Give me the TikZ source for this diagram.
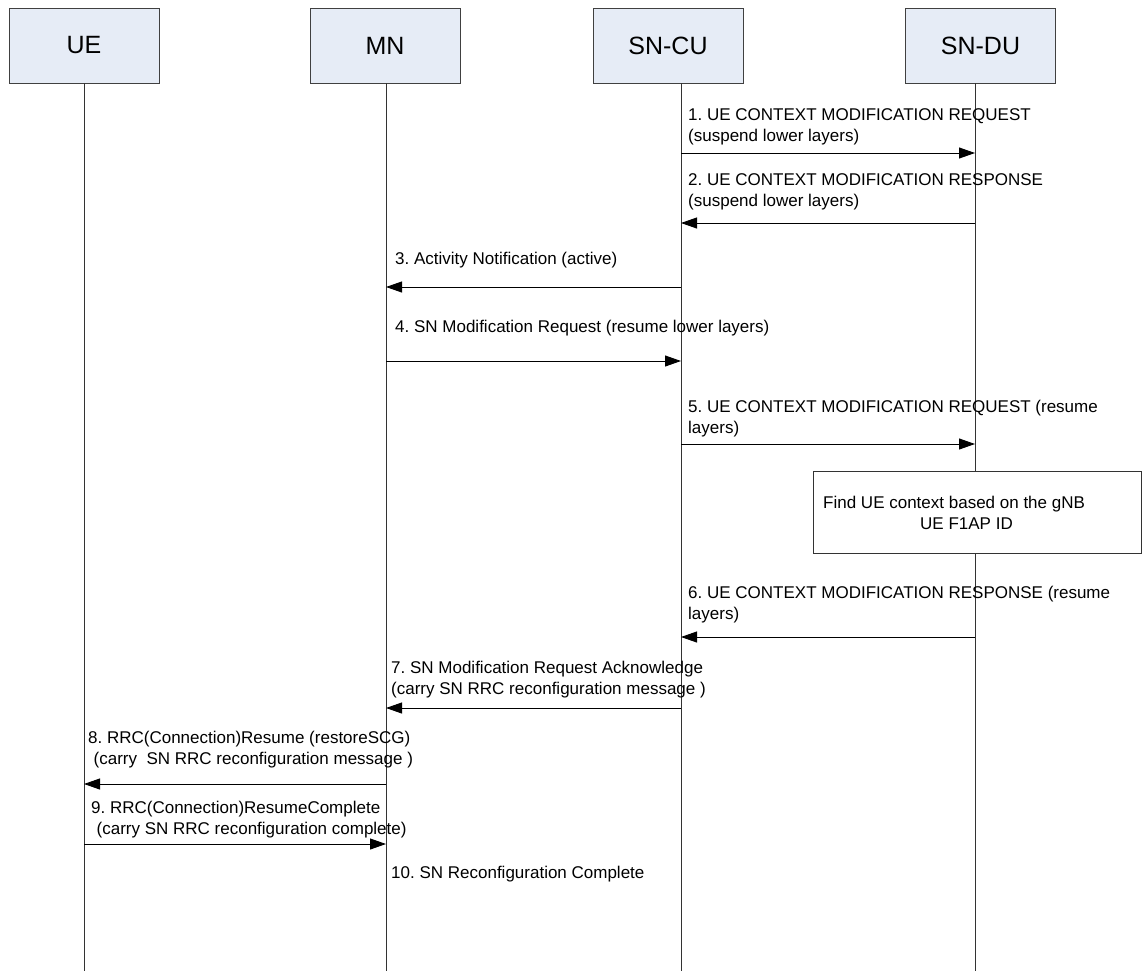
\documentclass[tikz,border=0pt]{standalone}
\usepackage{fontspec}
\setmainfont{Liberation Sans}
\usetikzlibrary{arrows.meta}
\definecolor{hdrfill}{RGB}{230,236,246}
\frenchspacing
\begin{document}
\begin{tikzpicture}[x=1pt,y=-1pt,
  entity/.style={draw=black!75, line width=0.9pt, fill=hdrfill, minimum width=150pt, minimum height=75pt, font=\fontsize{25}{30}\selectfont, inner sep=0pt},
  life/.style={draw=black!80, line width=0.9pt},
  msg/.style={draw=black, line width=0.9pt, -{Triangle[length=16pt,width=11pt]}},
  lbl/.style={anchor=base west, align=left, inner sep=0pt, font=\fontsize{17}{21}\selectfont\frenchspacing},
  notebox/.style={draw=black!80, line width=0.9pt, fill=white, anchor=north west, inner sep=0pt},
]
\useasboundingbox (0,0) rectangle (1143,972);
\node[entity] (ue) at (84,45.5) {UE};
\node[entity] (mn) at (385,45.5) {MN};
\node[entity] (sncu) at (668,45.5) {SN-CU};
\node[entity] (sndu) at (980.5,45.5) {SN-DU};
\coordinate (lu) at (84,83);
\coordinate (lm) at (386,83);
\coordinate (lc) at (681,83);
\coordinate (ld) at (975,83);
\coordinate (bot) at (0,971);
\draw[life] (lu) -- (lu |- bot);
\draw[life] (lm) -- (lm |- bot);
\draw[life] (lc) -- (lc |- bot);
\draw[life] (ld) -- (ld |- bot);

\node[notebox, minimum width=328pt, minimum height=82pt] (findbox) at (813,471) {};
\node[lbl] (findtxt) at (823,529) {Find UE context based on the gNB\\\hspace*{97pt}UE F1AP ID};

\coordinate (m1) at (0,153);
\coordinate (m2) at (0,223);
\coordinate (m3) at (0,287);
\coordinate (m4) at (0,361);
\coordinate (m5) at (0,444);
\coordinate (m6) at (0,637);
\coordinate (m7) at (0,708);
\coordinate (m8) at (0,784);
\coordinate (m9) at (0,844);

\draw[msg] (lc |- m1) -- (ld |- m1);
\draw[msg] (ld |- m2) -- (lc |- m2);
\draw[msg] (lc |- m3) -- (lm |- m3);
\draw[msg] (lm |- m4) -- (lc |- m4);
\draw[msg] (lc |- m5) -- (ld |- m5);
\draw[msg] (ld |- m6) -- (lc |- m6);
\draw[msg] (lc |- m7) -- (lm |- m7);
\draw[msg] (lm |- m8) -- (lu |- m8);
\draw[msg] (lu |- m9) -- (lm |- m9);

\node[lbl] (l1) at (688,141) {1. UE CONTEXT MODIFICATION REQUEST\\(suspend lower layers)};
\node[lbl] (l2) at (688,206) {2. UE CONTEXT MODIFICATION RESPONSE\\(suspend lower layers)};
\node[lbl] (l3) at (395,264) {3. Activity Notification (active)};
\node[lbl] (l4) at (395,332) {4. SN Modification Request (resume lower layers)};
\node[lbl] (l5) at (688,433) {5. UE CONTEXT MODIFICATION REQUEST (resume\\layers)};
\node[lbl] (l6) at (688,619) {6. UE CONTEXT MODIFICATION RESPONSE (resume\\layers)};
\node[lbl] (l7) at (391,694) {7. SN Modification Request Acknowledge\\(carry SN RRC reconfiguration message )};
\node[lbl] (l8) at (88,764) {8. RRC(Connection)Resume (restoreSCG)\\\hspace*{5.5pt}(carry~~SN RRC reconfiguration message )};
\node[lbl] (l9) at (91,834) {9. RRC(Connection)ResumeComplete\\\hspace*{5.5pt}(carry SN RRC reconfiguration complete)};
\node[lbl] (l10) at (391,878) {10. SN Reconfiguration Complete};
\end{tikzpicture}
\end{document}
